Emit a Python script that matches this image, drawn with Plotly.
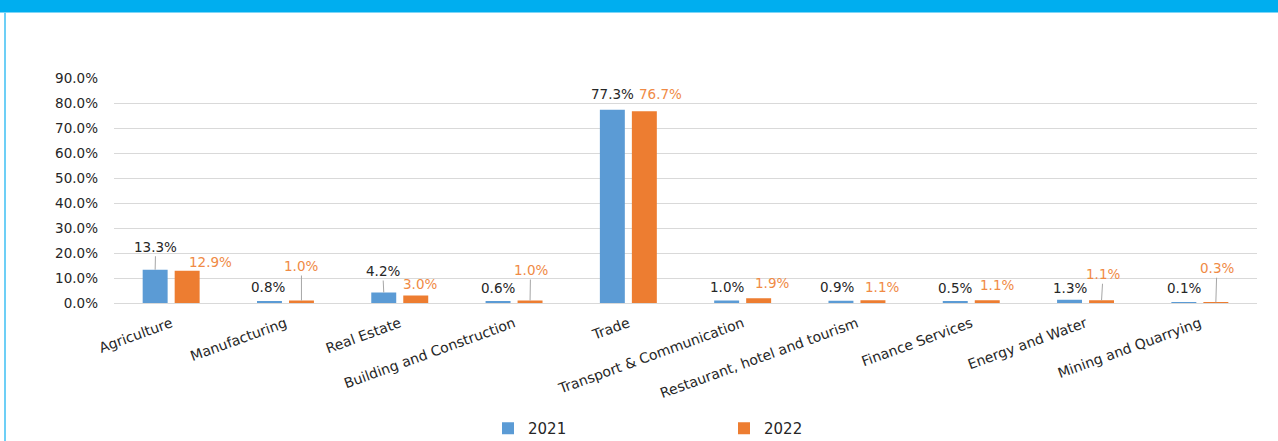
import plotly.graph_objects as go

categories = ["Agriculture", "Manufacturing", "Real Estate", "Building and Construction",
              "Trade", "Transport & Communication", "Restaurant, hotel and tourism",
              "Finance Services", "Energy and Water", "Mining and Quarrying"]
values_2021 = [13.3, 0.8, 4.2, 0.6, 77.3, 1.0, 0.9, 0.5, 1.3, 0.1]
values_2022 = [12.9, 1.0, 3.0, 1.0, 76.7, 1.9, 1.1, 1.1, 1.1, 0.3]
series_names = ["2021", "2022"]
y_ticks = [0, 10, 20, 30, 40, 50, 60, 70, 80, 90]

BLUE = "#5B9BD5"
ORANGE = "#ED7D31"
LABEL_DARK = "#262626"
LABEL_ORANGE = "#F08A45"
FONT = "DejaVu Sans"

W, H = 1278, 441
L, R, T, B = 114, 21, 78, 138
PW = W - L - R
PH = H - T - B

def px_x(px):
    return (px - L) / PW

def px_y(py):
    return (H - B - py) / PH

# label placement offsets (dx, dy in px from bar top centre), leader line flag
offsets_2021 = [(0.5, -23, True), (-1, -14, False), (-1, -21.5, True), (0, -13.5, False),
                (0, -16, False), (0, -13.5, False), (-4, -14, False), (0, -14, False),
                (0.5, -12, False), (0, -15, False)]
offsets_2022 = [(23.5, -9, False), (0, -34.5, True), (4, -11.5, False), (0.5, -30.5, True),
                (16.5, -17, False), (13, -15, False), (9, -13, False), (10, -15, False),
                (1.5, -26, True), (1, -34, True)]

fig = go.Figure()
fig.add_trace(go.Bar(x=categories, y=values_2021, name=series_names[0],
                     marker=dict(color=BLUE, line=dict(width=0))))
fig.add_trace(go.Bar(x=categories, y=values_2022, name=series_names[1],
                     marker=dict(color=ORANGE, line=dict(width=0))))

annotations = []
for vals, offs, shift, color in [(values_2021, offsets_2021, -16, LABEL_DARK),
                                 (values_2022, offsets_2022, 16, LABEL_ORANGE)]:
    for cat, v, (dx, dy, lead) in zip(categories, vals, offs):
        txt = f"{v:.1f}%"
        if lead:
            annotations.append(dict(x=cat, y=v, xref="x", yref="y", text=txt,
                                    showarrow=True, arrowhead=0, arrowwidth=1,
                                    arrowcolor="#A6A6A6", ax=dx, ay=dy, xshift=shift,
                                    standoff=0, font=dict(family=FONT, size=13.5, color=color)))
        else:
            annotations.append(dict(x=cat, y=v, xref="x", yref="y", text=txt,
                                    showarrow=False, xshift=shift + dx, yshift=-dy,
                                    xanchor="center", yanchor="middle",
                                    font=dict(family=FONT, size=13.5, color=color)))

shapes = [
    dict(type="rect", xref="paper", yref="paper", x0=px_x(0), x1=px_x(W),
         y0=px_y(12.5), y1=px_y(0), fillcolor="#00AEEF", line=dict(width=0), layer="above"),
    dict(type="line", xref="paper", yref="paper", x0=px_x(5), x1=px_x(5),
         y0=px_y(12.5), y1=px_y(H), line=dict(color="#6DCFF6", width=2)),
]

fig.update_layout(
    width=W, height=H, autosize=False,
    margin=dict(l=L, r=R, t=T, b=B, autoexpand=False),
    paper_bgcolor="white", plot_bgcolor="white",
    barmode="group", bargap=0.44, bargroupgap=0.22,
    font=dict(family=FONT, size=13, color=LABEL_DARK),
    xaxis=dict(type="category", tickangle=-20, showgrid=False, showline=False,
               ticks="", ticklabelstandoff=9,
               tickfont=dict(family=FONT, size=14, color=LABEL_DARK)),
    yaxis=dict(range=[0, 90], tickvals=y_ticks, ticktext=[f"{t:.1f}%" for t in y_ticks],
               showgrid=True, gridcolor="#D9D9D9", gridwidth=1, zeroline=True,
               zerolinecolor="#D9D9D9", zerolinewidth=1, ticks="", ticklen=0,
               ticklabelstandoff=15,
               tickfont=dict(family=FONT, size=13.5, color=LABEL_DARK)),
    legend=dict(orientation="h", x=px_x(488), xanchor="left", y=px_y(412), yanchor="top",
                entrywidth=191, entrywidthmode="pixels",
                font=dict(family=FONT, size=15, color=LABEL_DARK), traceorder="normal"),
    annotations=annotations,
    shapes=shapes,
)

post = ("document.documentElement.style.margin='0';document.body.style.margin='0';"
        "document.body.style.padding='0';document.body.style.overflow='hidden';"
        "var gd=document.getElementById('{plot_id}');"
        "Plotly.relayout(gd,{width:%d,height:%d});" % (W, H))

fig.write_html("out.html", post_script=post,
               config={"responsive": False, "displayModeBar": False})
